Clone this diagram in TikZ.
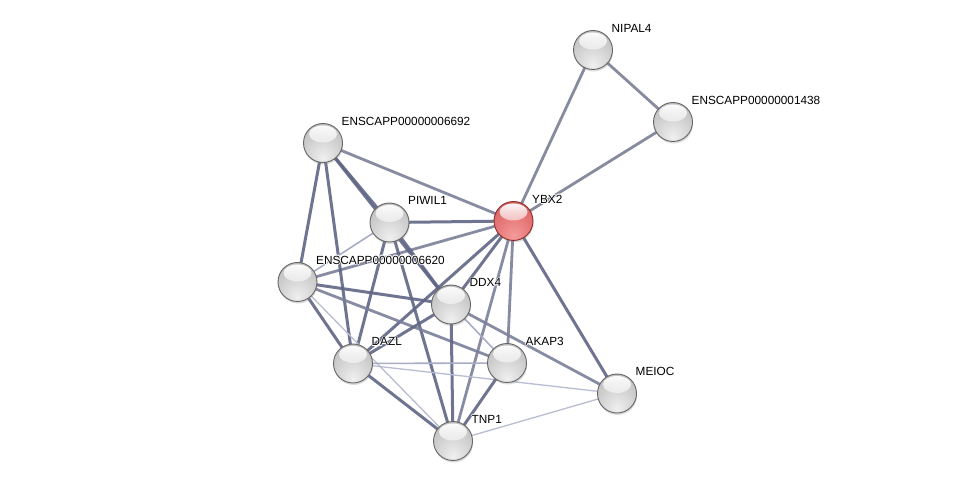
\documentclass[tikz,border=0pt]{standalone}
\usepackage{fontspec}
\setmainfont{Liberation Sans}
\usetikzlibrary{shadows,backgrounds,calc,fadings}
\pgfdeclarelayer{canvas}
\pgfsetlayers{canvas,background,main}
\definecolor{edark}{RGB}{96,102,134}
\definecolor{emid}{RGB}{122,128,154}
\definecolor{egrey}{RGB}{134,139,158}
\definecolor{elight}{RGB}{168,173,198}
\definecolor{rA}{RGB}{245,155,155}
\definecolor{rB}{RGB}{230,118,118}
\definecolor{rC}{RGB}{210,92,92}
\definecolor{rD}{RGB}{185,66,66}
\definecolor{rE}{RGB}{140,45,45}
\newcommand\hcopy[3]{\rlap{\hspace{#1}\raisebox{#2}{\color{white}#3}}}
\newcommand\halotext[1]{\leavevmode\hcopy{0.7pt}{0pt}{#1}\hcopy{-0.7pt}{0pt}{#1}\hcopy{0pt}{0.7pt}{#1}\hcopy{0pt}{-0.7pt}{#1}\hcopy{0.5pt}{0.5pt}{#1}\hcopy{-0.5pt}{0.5pt}{#1}\hcopy{0.5pt}{-0.5pt}{#1}\hcopy{-0.5pt}{-0.5pt}{#1}#1}
\pgfdeclareradialshading{greyball}{\pgfpoint{0bp}{-20bp}}{color(0bp)=(black!6); color(22bp)=(black!18); color(42bp)=(black!28); color(62bp)=(black!42); color(76bp)=(black!56)}
\pgfdeclareradialshading{redball}{\pgfpoint{0bp}{-20bp}}{color(0bp)=(rA); color(22bp)=(rB); color(42bp)=(rC); color(62bp)=(rD); color(76bp)=(rE)}
\tikzset{
  ballbase/.style={circle, minimum size=39pt, inner sep=0pt, line width=0.9pt,
    drop shadow={shadow xshift=0.6pt, shadow yshift=-2pt, opacity=0.28},
    path picture={\fill[white, path fading=south]
      ($(path picture bounding box.center)+(0,-9)$) ellipse (14 and 8.5);}},
  gball/.style={ballbase, shading=greyball, draw=black!60},
  rball/.style={ballbase, shading=redball, draw=rE},
  lbl/.style={anchor=base west, inner sep=0pt, font=\fontsize{11.8}{13}\selectfont, text=black},
  ed/.style={line width=3pt, draw=edark, draw opacity=0.9},
  em/.style={line width=2.8pt, draw=emid, draw opacity=0.9},
  eg/.style={line width=2.8pt, draw=egrey},
  el/.style={line width=1.6pt, draw=elight},
  ell/.style={line width=1.3pt, draw=elight!80},
}
\begin{document}
\begin{tikzpicture}[x=1pt,y=-1pt]
\begin{pgfonlayer}{canvas}
\fill[white] (0,0) rectangle (975,486);
\end{pgfonlayer}
\useasboundingbox (0,0) rectangle (975,486);
% nodes
\node[gball] (nipal4) at (593,50) {};
\node[gball] (e1438) at (673,122) {};
\node[gball] (e6692) at (323,143) {};
\node[rball] (ybx2) at (513.5,221) {};
\node[gball] (piwil1) at (389.5,222.5) {};
\node[gball] (e6620) at (297.5,282) {};
\node[gball] (ddx4) at (451,304.5) {};
\node[gball] (dazl) at (353,363.5) {};
\node[gball] (akap3) at (507,363) {};
\node[gball] (meioc) at (617,393.5) {};
\node[gball] (tnp1) at (453,441) {};
% labels
\node[lbl] (lnipal4) at ($(nipal4)+(18.5,-17.5)$) {\halotext{NIPAL4}};
\node[lbl] (l1438) at ($(e1438)+(18.5,-17.5)$) {\halotext{ENSCAPP00000001438}};
\node[lbl] (l6692) at ($(e6692)+(18.5,-17.5)$) {\halotext{ENSCAPP00000006692}};
\node[lbl] (lybx2) at ($(ybx2)+(18.5,-17.5)$) {\halotext{YBX2}};
\node[lbl] (lpiwil1) at ($(piwil1)+(18.5,-17.5)$) {\halotext{PIWIL1}};
\node[lbl] (l6620) at ($(e6620)+(18.5,-17.5)$) {\halotext{ENSCAPP00000006620}};
\node[lbl] (lddx4) at ($(ddx4)+(18.5,-17.5)$) {\halotext{DDX4}};
\node[lbl] (ldazl) at ($(dazl)+(18.5,-17.5)$) {\halotext{DAZL}};
\node[lbl] (lakap3) at ($(akap3)+(18.5,-17.5)$) {\halotext{AKAP3}};
\node[lbl] (lmeioc) at ($(meioc)+(18.5,-17.5)$) {\halotext{MEIOC}};
\node[lbl] (ltnp1) at ($(tnp1)+(18.5,-17.5)$) {\halotext{TNP1}};
% edges
\begin{pgfonlayer}{background}
\draw[eg] (ybx2.center) -- (nipal4.center);
\draw[eg] (nipal4.center) -- (e1438.center);
\draw[eg] (ybx2.center) -- (e1438.center);
\draw[em] (ybx2.center) -- (e6692.center);
\draw[ed] (ybx2.center) -- (piwil1.center);
\draw[em] (ybx2.center) -- (e6620.center);
\draw[ed] (ybx2.center) -- (ddx4.center);
\draw[ed] (ybx2.center) -- (dazl.center);
\draw[em] (ybx2.center) -- (tnp1.center);
\draw[em] (ybx2.center) -- (akap3.center);
\draw[ed] (ybx2.center) -- (meioc.center);
\draw[ed] (e6692.center) -- (piwil1.center);
\draw[ed] (e6692.center) -- (ddx4.center);
\draw[ed] (e6692.center) -- (e6620.center);
\draw[ed] (e6692.center) -- (dazl.center);
\draw[el] (piwil1.center) -- (e6620.center);
\draw[ed] (piwil1.center) -- (ddx4.center);
\draw[ed] (piwil1.center) -- (dazl.center);
\draw[ed] (piwil1.center) -- (tnp1.center);
\draw[ed] (e6620.center) -- (ddx4.center);
\draw[ed] (e6620.center) -- (dazl.center);
\draw[em] (e6620.center) -- (akap3.center);
\draw[ell] (e6620.center) -- (tnp1.center);
\draw[ed] (ddx4.center) -- (dazl.center);
\draw[ed] (ddx4.center) -- (tnp1.center);
\draw[el] (ddx4.center) -- (akap3.center);
\draw[em] (ddx4.center) -- (meioc.center);
\draw[ed] (dazl.center) -- (tnp1.center);
\draw[el] (dazl.center) -- (akap3.center);
\draw[ell] (dazl.center) -- (meioc.center);
\draw[ed] (akap3.center) -- (tnp1.center);
\draw[ell] (tnp1.center) -- (meioc.center);
\end{pgfonlayer}
\end{tikzpicture}
\end{document}
